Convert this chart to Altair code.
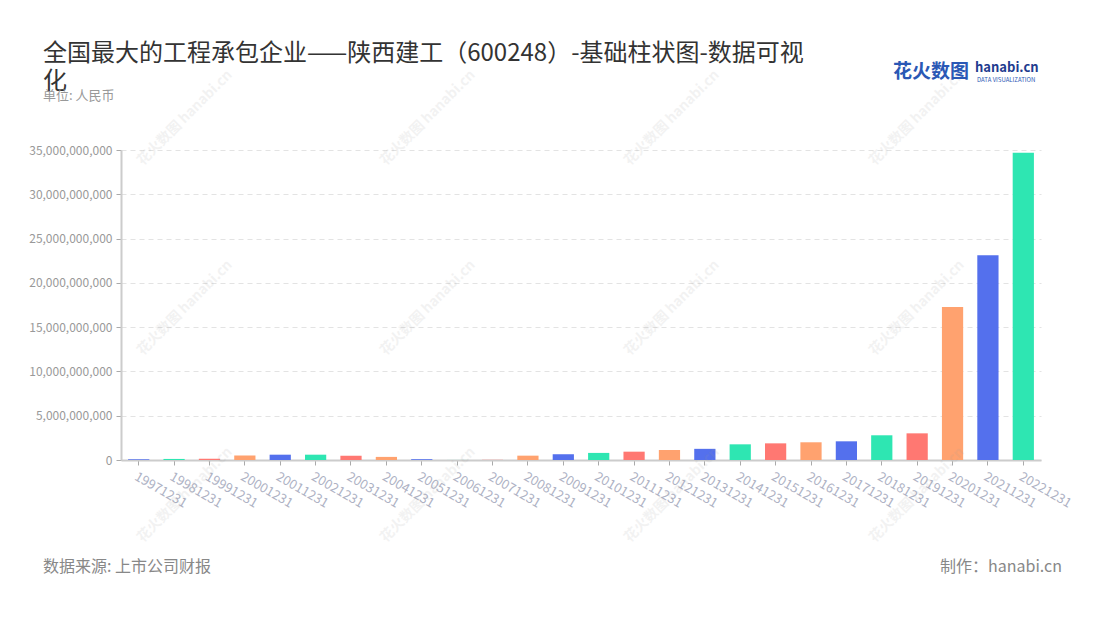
import altair as alt
import pandas as pd

# ---------------- data ----------------
dates = ["19971231", "19981231", "19991231", "20001231", "20011231", "20021231",
         "20031231", "20041231", "20051231", "20061231", "20071231", "20081231",
         "20091231", "20101231", "20111231", "20121231", "20131231", "20141231",
         "20151231", "20161231", "20171231", "20181231", "20191231", "20201231",
         "20211231", "20221231"]
values = [80e6, 120e6, 140e6, 520e6, 600e6, 600e6,
          480e6, 350e6, 90e6, 5e6, 20e6, 490e6,
          650e6, 800e6, 940e6, 1.13e9, 1.26e9, 1.77e9,
          1.88e9, 2.0e9, 2.11e9, 2.79e9, 3.01e9, 17.28e9,
          23.12e9, 34.7e9]
palette = ["#5470ED", "#2EE6B2", "#FF7872", "#FFA26F"]
y_ticks = [0, 5e9, 10e9, 15e9, 20e9, 25e9, 30e9, 35e9]

title_lines = ["全国最大的工程承包企业——陕西建工（600248）-基础柱状图-数据可视", "化"]
subtitle = "单位: 人民币"
source = "数据来源: 上市公司财报"
maker = "制作：hanabi.cn"

FONT = "Noto Sans CJK SC"

df = pd.DataFrame({"date": dates, "value": values,
                   "color": [palette[i % 4] for i in range(len(dates))]})

W, H = 920, 310
OX, OY = 121, 150  # page position of plot origin

bars = alt.Chart(df).mark_bar().encode(
    x=alt.X("date:N", sort=dates, title=None,
            scale=alt.Scale(paddingInner=0.4, paddingOuter=0.2),
            axis=alt.Axis(labelAngle=30, labelAlign="left", labelBaseline="top",
                          labelColor="#aeb2c4", labelFontSize=13, labelFont=FONT,
                          labelPadding=5, tickColor="#aaaaaa", tickSize=5,
                          domainColor="#cccccc", domainWidth=2, grid=False)),
    y=alt.Y("value:Q", title=None,
            scale=alt.Scale(domain=[0, 35e9], nice=False),
            axis=alt.Axis(values=y_ticks, format=",.0f", labelColor="#999999",
                          labelFontSize=12, labelFont=FONT, labelPadding=4,
                          tickColor="#aaaaaa", tickSize=5,
                          domainColor="#cccccc", domainWidth=2,
                          grid=True, gridColor="#e3e3e3", gridDash=[5, 4])),
    color=alt.Color("color:N", scale=None, legend=None),
)

def txt(s, px, py, size, color, align="left", weight="normal", angle=0, opacity=1.0, baseline="middle"):
    kw = dict(align=align, baseline=baseline, fontSize=size, color=color,
              font=FONT, fontWeight=weight, opacity=opacity)
    if angle:
        kw["angle"] = angle
    return alt.Chart(pd.DataFrame({"t": [s]})).mark_text(**kw).encode(
        x=alt.value(px - OX), y=alt.value(py - OY), text="t:N")

layers = [bars]

# watermarks
for cx in [185, 428, 672, 917]:
    for cy in [118, 308, 495]:
        layers.append(txt("花火数图 hanabi.cn", cx, cy, 14, "#9a9a9a",
                          align="center", weight="bold", angle=315, opacity=0.12))

layers += [
    txt(title_lines[0], 43, 54, 24, "#333333"),
    txt(title_lines[1], 43, 82, 24, "#333333"),
    txt(subtitle, 43, 96, 13, "#999999"),
    txt(source, 43, 567, 16, "#888888"),
    txt(maker, 1062, 567, 16, "#888888", align="right"),
    txt("花火数图", 893, 72, 19, "#2a58b5", weight="bold"),
    txt("hanabi.cn", 975, 68, 13, "#1f3c8f", weight="bold"),
    txt("DATA VISUALIZATION", 977, 80, 6, "#2a58b5"),
]

chart = alt.layer(*layers).properties(
    width=W, height=H,
    background="white",
    autosize=alt.AutoSizeParams(type="none"),
    padding={"left": OX - 8, "top": OY - 8, "right": 1084 - (OX - 8) - W, "bottom": 604 - (OY - 8) - H},
).configure_view(stroke=None)

chart.save("out.html", embed_options={"renderer": "svg", "actions": False})
